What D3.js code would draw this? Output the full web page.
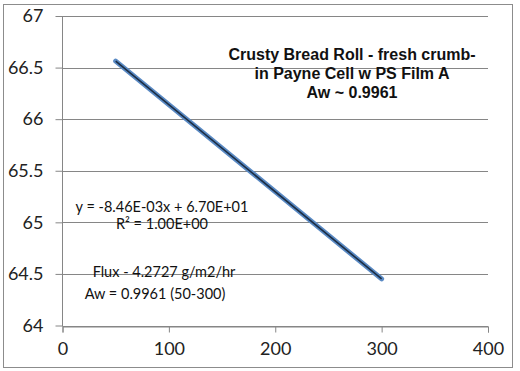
<!DOCTYPE html>
<html><head><meta charset="utf-8">
<script src="https://cdn.jsdelivr.net/npm/d3@7"></script>
<style>body{margin:0;background:#fff}svg{display:block}</style>
</head><body><svg id="c" width="520" height="371"></svg>
<script>
const xVals = [50, 300];
const yVals = [66.563, 64.452];
const xTicks = [0, 100, 200, 300, 400];
const yTicks = [64, 64.5, 65, 65.5, 66, 66.5, 67];
const titleLines = ["Crusty Bread Roll - fresh crumb-", "in Payne Cell w PS Film A", "Aw ~ 0.9961"];
const eqLines = ["y = -8.46E-03x + 6.70E+01", "R\u00B2 = 1.00E+00"];
const noteLines = ["Flux - 4.2727 g/m2/hr", "Aw = 0.9961 (50-300)"];

const svg = d3.select("#c");
const font = "Lato, 'Open Sans', sans-serif";
svg.append("rect").attr("x",3.5).attr("y",4.5).attr("width",509).attr("height",363)
  .attr("fill","#fff").attr("stroke","#8c8c8c").attr("stroke-width",1);

const x = d3.scaleLinear().domain([0,400]).range([62.5,488]);
const y = d3.scaleLinear().domain([64,67]).range([325.5,16]);

svg.append("g").selectAll("line").data(yTicks).join("line")
  .attr("x1",x(0)).attr("x2",x(400)).attr("y1",d=>Math.round(y(d))+0.5).attr("y2",d=>Math.round(y(d))+0.5)
  .attr("stroke","#868686").attr("stroke-width",1);

const ya = svg.append("g").attr("transform",`translate(${x(0)},0)`)
  .call(d3.axisLeft(y).tickValues(yTicks).tickSize(7).tickPadding(12).tickFormat(d=>String(d)));
const xa = svg.append("g").attr("transform",`translate(0,${Math.round(y(64))+0.5})`)
  .call(d3.axisBottom(x).tickValues(xTicks).tickSize(6).tickPadding(10).tickFormat(d=>String(d)));
[ya,xa].forEach(a=>{
  a.select(".domain").attr("stroke","#868686");
  a.selectAll(".tick line").attr("stroke","#868686");
  a.selectAll(".tick text").attr("fill","#222").style("font-family",font).style("font-size","18px");
});
ya.select(".domain").attr("d",`M0,${y(67)}V${Math.round(y(64))+0.5}`);

const pts = xVals.map((v,i)=>[v,yVals[i]]);
const line = d3.line().x(d=>x(d[0])).y(d=>y(d[1]));
svg.append("path").datum(pts).attr("d",line).attr("fill","none")
  .attr("stroke","#5a8ac4").attr("stroke-width",5).attr("stroke-linecap","round");
svg.append("path").datum(pts).attr("d",line).attr("fill","none")
  .attr("stroke","#1c2e44").attr("stroke-width",1.6);

svg.append("g").selectAll("text").data(titleLines).join("text")
  .attr("x",352).attr("y",(d,i)=>59.5+i*19).attr("text-anchor","middle")
  .style("font-family","'Liberation Sans', Arial, sans-serif").style("font-weight","bold")
  .style("font-size","16px").attr("fill","#111").text(d=>d);

svg.append("g").selectAll("text").data(eqLines).join("text")
  .attr("x",162).attr("y",(d,i)=>211.5+i*17).attr("text-anchor","middle")
  .style("font-family",font).style("font-size","14.5px").attr("fill","#111").text(d=>d);
svg.append("g").selectAll("text").data(noteLines).join("text")
  .attr("x",(d,i)=>[164,155][i]).attr("y",(d,i)=>277+i*21.5).attr("text-anchor","middle")
  .style("font-family",font).style("font-size","14.5px").attr("fill","#111").text(d=>d);
</script></body></html>
